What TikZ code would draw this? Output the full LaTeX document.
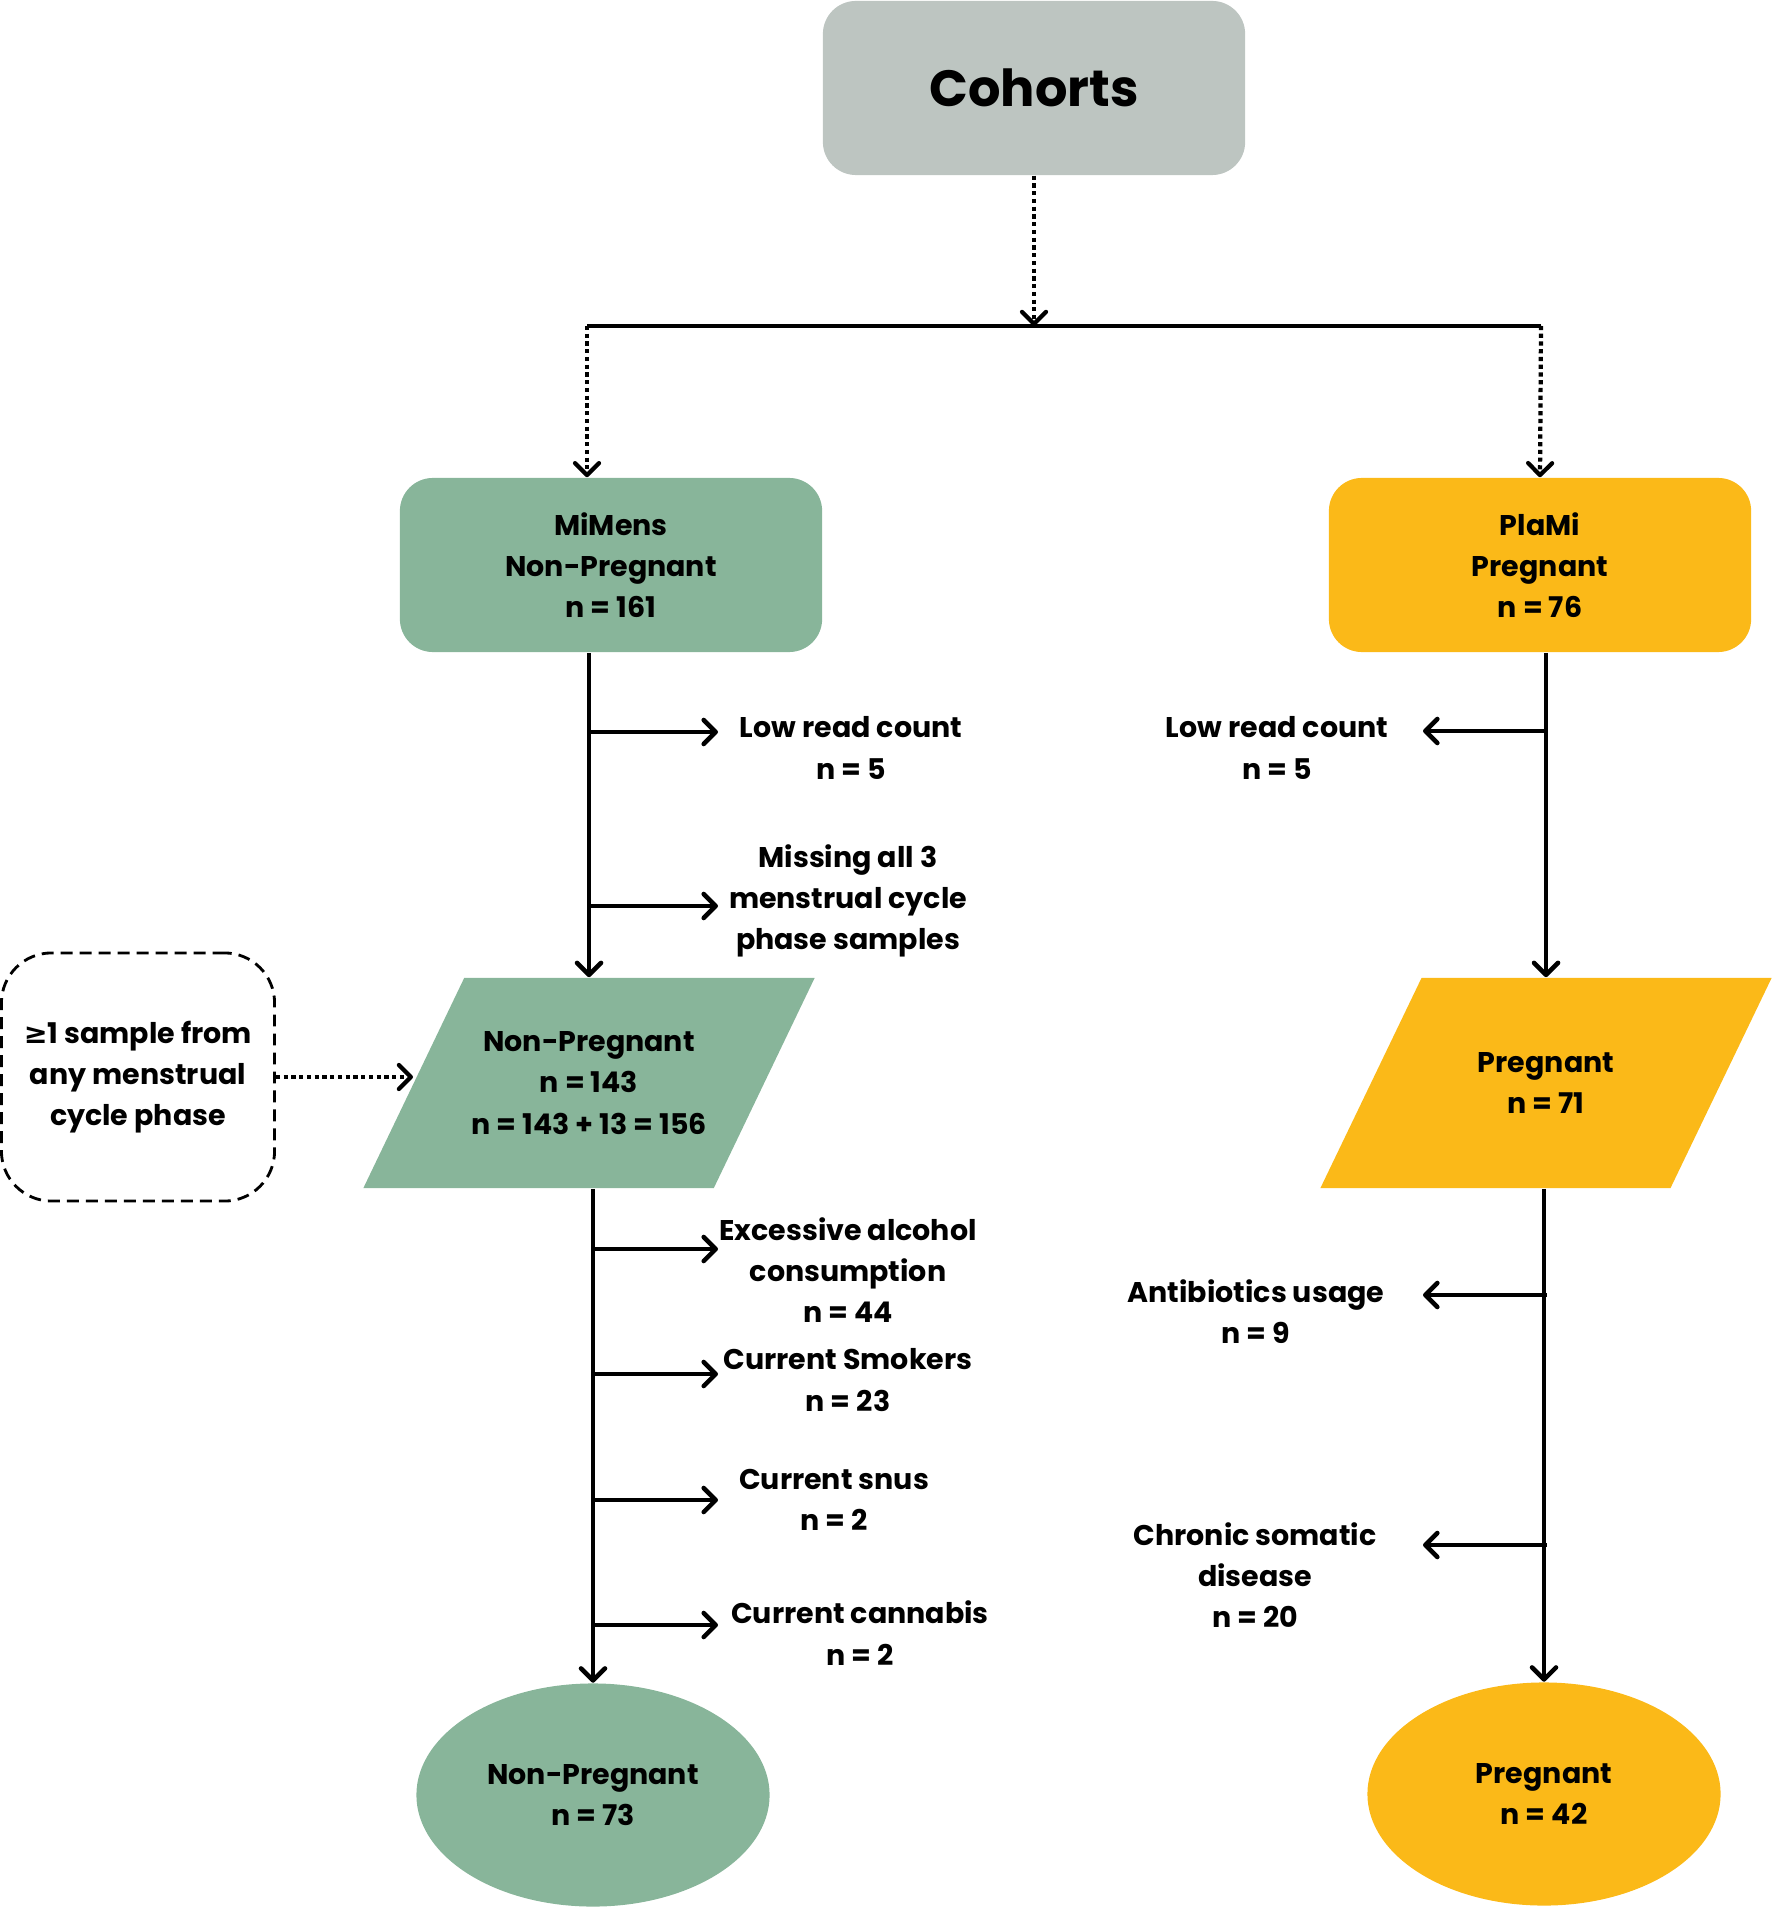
\documentclass[tikz,border=0pt]{standalone}
\usepackage{fontspec}
\setmainfont{Poppins}
\newfontfamily\symfont{DejaVu Sans}
\usetikzlibrary{shapes.geometric, arrows.meta, positioning}
\definecolor{cohortgray}{RGB}{189,197,193}
\definecolor{mimensgreen}{RGB}{136,181,154}
\definecolor{plamiyellow}{RGB}{251,185,24}

\begin{document}
\begin{tikzpicture}[
  x=0.01cm, y=-0.01cm,
  txt/.style={font=\bfseries\fontsize{8.1}{11.7}\selectfont, align=center, inner sep=0pt},
  box/.style={rectangle, rounded corners=0.33cm, minimum width=4.22cm, minimum height=1.74cm, txt},
  para/.style={trapezium, trapezium left angle=64.3, trapezium right angle=115.7, trapezium stretches body, minimum height=2.1cm, minimum width=4.51cm, txt},
  oval/.style={ellipse, minimum width=3.53cm, minimum height=2.23cm, txt},
  arrow/.style={-{Straight Barb[round, length=1.2mm, width=2.4mm]}, line width=1.3pt},
  link/.style={line width=1.3pt},
  dotarrow/.style={-{Straight Barb[round, length=1.2mm, width=2.4mm]}, line width=1.2pt, densely dotted},
]
\useasboundingbox (0,0) rectangle (1772,1907);

% Cohorts
\node[box, fill=cohortgray, font=\bfseries\fontsize{14.5}{17}\selectfont] (cohorts) at (1034,88) {Cohorts};

% MiMens / PlaMi
\node[box, fill=mimensgreen] (mimens) at (611,565) {MiMens\\Non-Pregnant\\n = 161};
\node[box, fill=plamiyellow] (plami) at (1540,565) {PlaMi\\Pregnant\\n = 76};

% Filtered groups
\node[para, inner ysep=0.535cm, fill=mimensgreen] (nonpreg) at (589,1083) {Non-Pregnant\\n = 143\\n = 143 + 13 = 156};
\node[para, inner ysep=0.745cm, fill=plamiyellow] (preg) at (1546,1083) {Pregnant\\n = 71};
\node[txt, draw, dash pattern=on 3.4pt off 2pt, line width=0.8pt, rounded corners=0.5cm, minimum width=2.73cm, minimum height=2.48cm] (sample) at (138,1077) {{\symfont ≥}1 sample from\\any menstrual\\cycle phase};

% Final groups
\node[oval, fill=mimensgreen] (nonpregfinal) at (593,1795) {Non-Pregnant\\n = 73};
\node[oval, fill=plamiyellow] (pregfinal) at (1544,1794) {Pregnant\\n = 42};

% Exclusions
\node[txt] (lowl) at (851,748) {Low read count\\n = 5};
\node[txt] (missing) at (848,901) {Missing all 3\\menstrual cycle\\phase samples};
\node[txt] (alcohol) at (848,1270) {Excessive alcohol\\consumption\\n = 44};
\node[txt] (smokers) at (848,1380) {Current Smokers\\n = 23};
\node[txt] (snus) at (834,1500) {Current snus\\n = 2};
\node[txt] (cannabis) at (860,1633) {Current cannabis\\n = 2};
\node[txt] (lowr) at (1277,748) {Low read count\\n = 5};
\node[txt] (antibiotics) at (1256,1312) {Antibiotics usage\\n = 9};
\node[txt] (chronic) at (1255,1575) {Chronic somatic\\disease\\n = 20};

% Split
\coordinate (splitl) at (587,326);
\coordinate (splitr) at (1541,326);
\coordinate (split) at (cohorts.south |- splitl);
\draw[dotarrow] (cohorts.south) -- (split);
\draw[link] (splitl) -- (splitr);
\draw[dotarrow] (splitl) -- (splitl |- mimens.north);
\draw[dotarrow] (splitr) -- (plami.north);

% Branch points
\coordinate (lend) at (718,0);
\coordinate (rend) at (1423,0);
\coordinate (cutlow) at (590,732);
\coordinate (cutmiss) at (590,906);
\coordinate (cutalc) at (594,1249);
\coordinate (cutsmk) at (594,1374);
\coordinate (cutsnus) at (594,1500);
\coordinate (cutcan) at (594,1625);
\coordinate (cutlowr) at (1545,731);
\coordinate (cutanti) at (1547,1295);
\coordinate (cutchron) at (1547,1545);

% Left arm
\draw[arrow] (nonpreg.north |- mimens.south) -- (nonpreg.north);
\draw[arrow] (cutlow) -- (cutlow -| lend);
\draw[arrow] (cutmiss) -- (cutmiss -| lend);
\draw[dotarrow] (sample.east) -- (sample.east -| nonpreg.west);
\draw[arrow] (nonpregfinal.north |- nonpreg.south) -- (nonpregfinal.north);
\draw[arrow] (cutalc) -- (cutalc -| lend);
\draw[arrow] (cutsmk) -- (cutsmk -| lend);
\draw[arrow] (cutsnus) -- (cutsnus -| lend);
\draw[arrow] (cutcan) -- (cutcan -| lend);

% Right arm
\draw[arrow] (preg.north |- plami.south) -- (preg.north);
\draw[arrow] (cutlowr) -- (cutlowr -| rend);
\draw[arrow] (pregfinal.north |- preg.south) -- (pregfinal.north);
\draw[arrow] (cutanti) -- (cutanti -| rend);
\draw[arrow] (cutchron) -- (cutchron -| rend);

\end{tikzpicture}
\end{document}
